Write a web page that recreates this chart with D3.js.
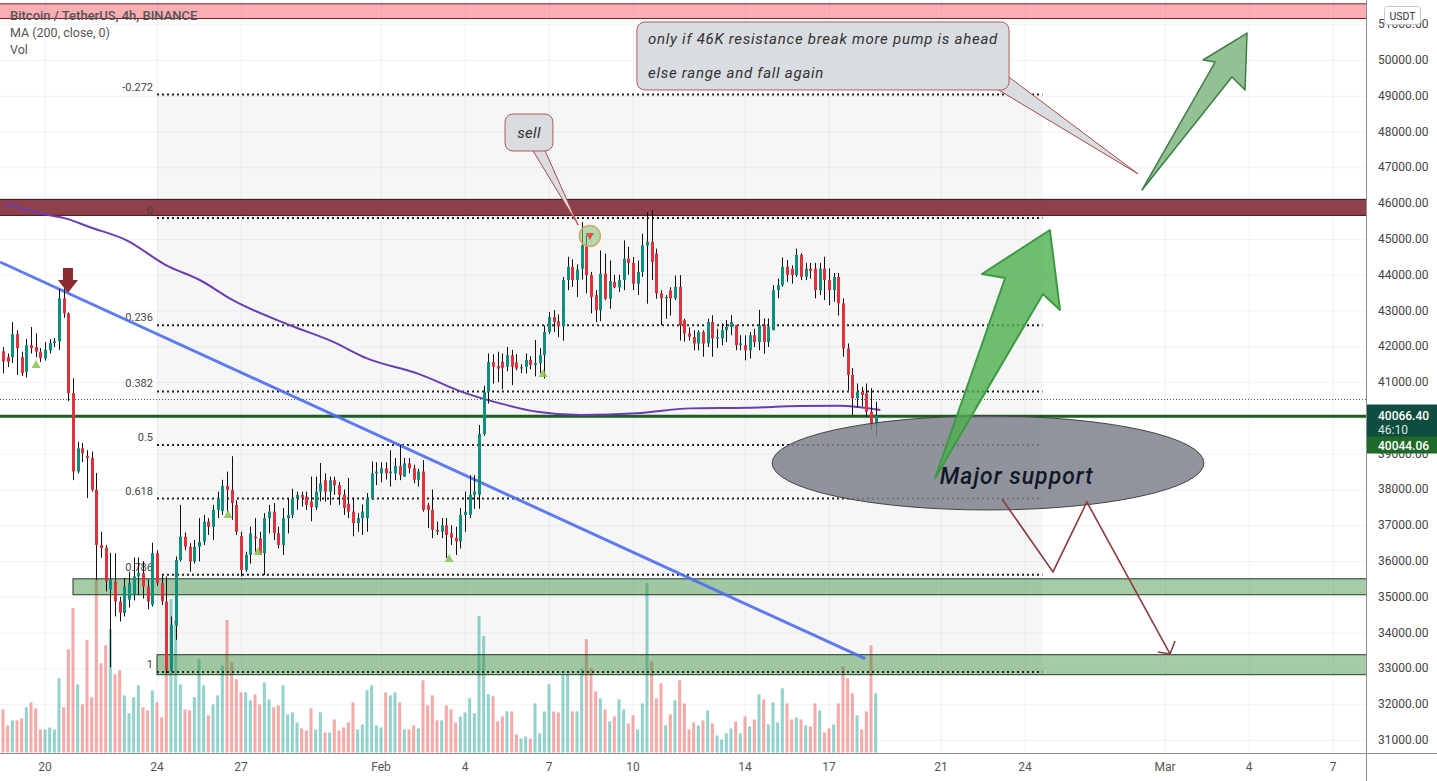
<!DOCTYPE html>
<html><head><meta charset="utf-8">
<script src="https://cdn.jsdelivr.net/npm/d3@7"></script>
<style>
body{margin:0;background:#fff;overflow:hidden}
svg{display:block}
text{font-family:Roboto,"Noto Sans",sans-serif}
</style>
</head><body>
<svg id="c" width="1437" height="781"></svg>
<script>
// ---------------- DATA ----------------
const title = "Bitcoin / TetherUS, 4h, BINANCE";
const legendLines = ["MA (200, close, 0)", "Vol"];
const candleStart = "2022-01-18T12:00:00Z"; // 4h candles
const opens = [41860,41700,41700,42340,41700,41290,42030,41980,41850,41660,41890,42090,42140,43340,42920,40690,38500,39150,38930,38880,
37990,36450,36370,35200,35430,34870,34550,34920,35060,35570,35660,35290,34780,36220,35380,34870,32970,34200,36030,36680,
36400,35990,36400,36540,37100,36960,37430,37400,38100,37990,37570,36700,35750,36170,36680,36630,36220,37200,37380,36780,
36450,37200,37290,37750,37850,37800,37660,37500,37940,38260,37940,38260,38120,37850,37600,37380,37060,37200,37200,37750,
38450,38450,38590,38450,38450,38660,38360,38730,38590,38270,38500,37560,37430,36870,36820,37000,36780,36650,36550,37290,
37290,37850,37850,39550,40730,41560,41450,41570,41430,41750,41550,41380,41430,41620,41480,41530,41750,42400,42820,42700,
42560,43850,44220,43850,44170,44820,43990,43430,43010,44030,43330,43800,43650,43850,44450,44330,43750,44080,44820,44920,
44590,43480,43340,43560,43340,43660,42730,42360,42260,42080,42400,42080,42680,42220,42220,42450,42540,42590,42030,42030,
41890,42310,42120,42590,42120,42450,43570,43710,44220,44170,43990,44550,43940,44170,44170,43570,44170,43850,43570,43940,
43200,41940,41200,40550,40730,40680,40170,39800];
const highs = [41980,41800,42680,42450,41850,42200,42540,42360,41950,42120,42200,42230,43600,43620,42950,41110,39330,39300,39100,39060,
38460,36820,36450,36230,36220,35000,35520,35700,36100,36100,36000,35480,36510,36300,35600,35570,34450,36130,37570,36800,
36500,36590,37200,37290,37200,37570,37940,38270,38500,38930,37700,36820,36260,36960,37200,36820,37340,37570,37620,36960,
37480,37750,38020,37940,37940,37940,38360,38360,38740,38450,38360,38360,38210,38000,38320,37770,37340,37580,37900,38780,
38760,38760,38760,39100,38880,39240,38880,38880,38690,38580,38820,37620,38000,37100,37200,37200,37000,36960,37480,37940,
38400,38400,39800,40900,41800,41780,41850,41800,41980,41900,41780,41500,41800,41720,42180,41950,42580,42960,43010,42890,
43940,44500,44430,44290,45470,45110,44080,43570,44680,44590,44400,44000,44000,44960,44780,44490,44400,45150,45750,45800,
44730,43570,43430,43650,43980,43990,42770,42530,42450,42450,42450,42770,42870,42490,42640,42730,42870,42590,42310,42310,
42400,42490,43020,42780,42780,43710,43890,44480,44410,44260,44730,44600,44330,44330,44330,44330,44500,44180,44050,44050,
43340,42080,41390,40960,40870,40960,40830,40450];
const lows = [41240,41420,41530,41200,41170,41130,41800,41700,41560,41600,41800,41980,41900,42800,40470,38260,38450,38770,37760,37940,
35470,36090,35150,33030,34450,34310,34450,34700,34900,35050,34950,34650,34730,35300,34770,32870,32920,33800,35990,36300,
35700,35930,35990,36450,36730,36590,37200,37290,37380,37150,36730,35570,35700,35930,36260,36170,35610,36770,36590,36350,
36170,36770,37200,37430,37520,37430,37110,37430,37670,37660,37570,37850,37570,37290,37200,36690,36820,36730,36820,37710,
38120,38200,38280,38080,38260,38260,38360,38450,38170,38080,37380,36920,36640,36730,36640,36090,36450,36170,36350,36820,
37200,37460,37460,39500,40400,40960,41000,40800,41300,40920,41330,41250,41240,41360,41160,41250,41100,42350,42400,42260,
42160,43570,43660,43380,43870,43480,42920,42680,42700,43290,43050,43620,43520,43570,44000,43570,43430,43940,43190,43850,
43330,42590,42770,42860,43290,42160,42130,42160,41890,41890,41710,41980,41710,41950,42030,42120,42310,41890,41890,41610,
41660,41980,41890,41790,41980,42450,43340,43660,43800,43750,43940,43850,43850,43890,43340,43430,43290,43150,43250,42860,
41710,40770,40080,40280,40320,40030,39660,39480];
const closes = [41580,41570,42340,41950,41250,42030,41950,41850,41670,41910,42090,42140,43340,42920,40690,38500,39150,39010,38880,37990,
36450,36360,35430,35480,34870,34560,35290,35390,35570,35670,35290,34870,36220,35380,34880,32970,34220,36030,36680,36400,
35990,36400,36540,37100,36960,37430,37750,38100,37990,37620,36820,35750,36170,36770,36630,36220,37200,37380,36780,36450,
37200,37290,37750,37850,37780,37570,37500,37940,38170,37940,38260,38120,37850,37480,37380,37060,37200,37380,37750,38450,
38500,38590,38450,38500,38660,38400,38730,38590,38270,38500,37430,37430,36870,36820,37000,36730,36650,36550,37290,37380,
37850,37940,39550,40730,41560,41430,41380,41400,41750,41430,41380,41420,41620,41480,41530,41750,42400,42820,42680,42560,
43850,44220,43850,44150,44820,43990,43380,43010,44030,43330,43820,43650,43850,44450,44330,43750,44080,44820,44920,44360,
43480,43340,43380,43340,43660,42590,42360,42270,42080,42400,42080,42680,42220,42260,42450,42540,42680,42030,42080,41890,
42310,42120,42590,42120,42540,43570,43710,44220,43990,43990,44550,43940,44170,44100,43570,44170,43850,43570,43940,43200,
41940,41200,40550,40730,40640,40170,39800,40066];
const volumes = [4300,2700,3200,3200,3400,4500,5000,4400,2300,2300,2500,2300,7400,4500,10300,14400,6800,4800,11200,5500,
17300,8900,10700,12300,7800,8200,5700,3900,5500,6700,4500,4200,6200,5000,3500,8700,15300,13200,6800,4300,
4200,5500,9300,6700,3700,4800,5700,8700,13200,9000,7300,6000,6000,5200,5800,4800,7000,5300,4500,4700,
6700,3800,4000,3000,2400,2200,4400,2300,4000,2000,2000,3300,2200,2500,3000,5000,2300,2800,6200,6700,
2700,2500,6000,5700,6000,5000,2300,2300,2700,2400,7200,4700,5700,3200,3200,4700,4300,3000,3600,4000,
5400,3900,13600,11600,5800,5600,3100,3600,4100,4100,1800,1400,1600,1400,4900,1900,4100,6800,4100,4000,
7700,7800,4100,4100,8400,11300,8400,6100,5400,4300,3100,3600,5300,4300,2900,3700,2300,4900,16900,9100,
5400,6900,2700,3800,5200,7200,4900,2300,3000,2700,3200,4200,2900,1700,1300,1900,2400,3100,1900,3600,
2600,3300,5800,5300,2800,5000,3000,6400,4900,3300,3500,3300,2700,2600,4900,4200,2000,2400,2800,4900,
8600,7400,5900,3700,2300,4100,10700,5900];

const maDates = ["2022-01-18T12:00Z","2022-01-20T04:00Z","2022-01-20T18:00Z","2022-01-21T14:00Z","2022-01-22T22:00Z","2022-01-24T08:00Z",
"2022-01-25T13:00Z","2022-01-26T17:00Z","2022-01-28T18:00Z","2022-01-30T07:00Z","2022-01-31T12:00Z","2022-02-02T07:00Z",
"2022-02-04T01:00Z","2022-02-05T06:00Z","2022-02-06T14:00Z","2022-02-08T03:00Z","2022-02-10T03:00Z","2022-02-12T01:00Z",
"2022-02-14T02:00Z","2022-02-15T23:00Z","2022-02-17T09:00Z","2022-02-17T23:00Z","2022-02-18T20:00Z"];
const maValues = [45994,45659,45567,45333,44962,44264,43846,43288,42590,42125,41662,41243,40685,40406,40171,40079,40127,40266,40283,40330,40339,40311,40219];

const priceTicks = [31000,32000,33000,34000,35000,36000,37000,38000,39000,40000,41000,42000,43000,44000,45000,46000,47000,48000,49000,50000,51000];
const timeTickDates = ["2022-01-20","2022-01-24","2022-01-27","2022-02-01","2022-02-04","2022-02-07","2022-02-10","2022-02-14","2022-02-17","2022-02-21","2022-02-24","2022-03-01","2022-03-04","2022-03-07"];
const timeTickLabels = ["20","24","27","Feb","4","7","10","14","17","21","24","Mar","4","7"];

const fibLevels = [-0.272,0,0.236,0.382,0.5,0.618,0.786,1];
const fibLabels = ["-0.272","0","0.236","0.382","0.5","0.618","0.786","1"];
const fibHigh = 45585, fibLow = 32900;
const fibStart = "2022-01-24T00:00Z", fibEnd = "2022-02-24T15:00Z";

const trendDates = ["2022-01-18T09:30Z","2022-02-18T07:00Z"];
const trendPrices = [44356, 33272];

// zones [startDate, topPrice, bottomPrice]
const zoneTop = ["2022-01-18T00:00Z", 51570, 51160];
const zoneResist = ["2022-01-18T00:00Z", 46106, 45659];
const zoneBox1 = ["2022-01-21T00:00Z", 35504, 35058];
const zoneBox2 = ["2022-01-24T00:00Z", 33383, 32825];
const supportLevel = 40044.06;
const dottedLevel = 40528;
const lastPrice = "40066.40", countdown = "46:10", lineLabel = "40044.06";

// annotations in [days after Jan 20, price]
const upMarkers = [[-0.32,41506],[6.54,37315],[7.61,36282],[14.43,36086],[17.79,41255]];
const downArrow = [0.82, 44189, 43490];
const bigArrow = [[31.79,38321],[34.29,43909],[33.46,44021],[35.89,45250],[36.25,43015],[35.64,43462]];
const topArrow = [[39.18,46368],[41.79,49944],[41.36,50000],[42.93,50754],[42.86,49162],[42.39,49525]];
const ellipse = [33.68, 38740, 7.71, 1313];
const zigzag = [[34.18,37734],[36.0,35695],[37.21,37650],[40.18,33404]];
const zigHead = [[39.75,33460],[40.18,33404],[40.36,33767]];
const note1 = {box:[21.14,51062,34.43,49162], tail:[[34.0,49190],[34.43,49520],[39.04,46815]],
  lines:["only if 46K resistance break more pump is ahead","else range and fall again"]};
const note2 = {box:[16.43,48491,18.14,47457], tail:[[17.4,47500],[17.85,47480],[19.04,45390]], lines:["sell"]};
const sellCircle = [19.46, 45083];

// ---------------- CHART ----------------
const W = 1437, H = 781, plotR = 1366, plotB = 753;
const svg = d3.select("#c");
const x = d3.scaleUtc().domain([new Date("2022-01-20T00:00Z"), new Date("2022-03-01T00:00Z")]).range([45,1165]);
const y = d3.scaleLinear().domain([31000,50000]).range([740,60]);
const vy = d3.scaleLinear().domain([0,17300]).range([752.5,579]);
const day0 = new Date("2022-01-20T00:00Z");
const xd = d => x(d3.utcMinute.offset(day0, Math.round(d*1440)));
const P = p => [xd(p[0]), y(p[1])];

svg.append("defs").append("clipPath").attr("id","plot").append("rect").attr("x",0).attr("y",0).attr("width",plotR).attr("height",plotB);
const g = svg.append("g").attr("clip-path","url(#plot)");

// grid
g.selectAll(".hg").data(priceTicks).join("line").attr("x1",0).attr("x2",plotR)
 .attr("y1",d=>y(d)+0.5).attr("y2",d=>y(d)+0.5).attr("stroke","#f0f3fa");
g.selectAll(".vg").data(timeTickDates).join("line").attr("y1",0).attr("y2",plotB)
 .attr("x1",d=>Math.round(x(new Date(d+"T00:00Z")))+0.5).attr("x2",d=>Math.round(x(new Date(d+"T00:00Z")))+0.5).attr("stroke","#f0f3fa");

// fib background
const fibPrice = l => fibHigh - l*(fibHigh-fibLow);
g.append("rect").attr("x",x(new Date(fibStart))).attr("width",x(new Date(fibEnd))-x(new Date(fibStart)))
 .attr("y",y(fibPrice(-0.272))).attr("height",y(fibPrice(1))-y(fibPrice(-0.272))).attr("fill","#000").attr("fill-opacity",0.035);

// candles data
const start = new Date(candleStart);
const candles = closes.map((c,i)=>({t:d3.utcHour.offset(start,4*i),o:opens[i],h:highs[i],l:lows[i],c:c,v:volumes[i]}));

// volume
g.selectAll(".vol").data(candles).join("rect")
 .attr("x",d=>x(d.t)-1.5).attr("width",3)
 .attr("y",d=>vy(d.v)).attr("height",d=>vy(0)-vy(d.v))
 .attr("fill",d=>d.c>=d.o?"#26a69a":"#ef5350").attr("fill-opacity",0.5);

// zones
function zone(z, fill, stroke, op){
  g.append("rect").attr("x",x(new Date(z[0]))).attr("width",plotR+10-x(new Date(z[0])))
   .attr("y",y(z[1])).attr("height",y(z[2])-y(z[1]))
   .attr("fill",fill).attr("fill-opacity",op).attr("stroke",stroke).attr("stroke-width",1);
}
zone(zoneTop,"#f23645","#7a1f26",0.4);
zone(zoneResist,"#7d1f2a","#3a0d12",0.85);
zone(zoneBox1,"#388e3c","#1f3b21",0.45);
zone(zoneBox2,"#388e3c","#1f3b21",0.45);

// dotted level
g.append("line").attr("x1",0).attr("x2",plotR).attr("y1",Math.round(y(dottedLevel))+0.5).attr("y2",Math.round(y(dottedLevel))+0.5)
 .attr("stroke","#555").attr("stroke-dasharray","1,2");
// support line
g.append("line").attr("x1",0).attr("x2",plotR).attr("y1",y(supportLevel)).attr("y2",y(supportLevel))
 .attr("stroke","#1b5e20").attr("stroke-width",3);

// fib lines
g.selectAll(".fib").data(fibLevels).join("line")
 .attr("x1",x(new Date(fibStart))).attr("x2",x(new Date(fibEnd)))
 .attr("y1",d=>y(fibPrice(d))).attr("y2",d=>y(fibPrice(d)))
 .attr("stroke","#222").attr("stroke-width",2).attr("stroke-dasharray","2,3");
g.selectAll(".fibl").data(fibLevels).join("text")
 .attr("x",x(new Date(fibStart))-4).attr("y",d=>y(fibPrice(d))-4)
 .attr("text-anchor","end").attr("font-size",11).attr("fill","#444").text((d,i)=>fibLabels[i]);

// MA line
const maPts = maDates.map((d,i)=>[x(new Date(d)), y(maValues[i])]);
g.append("path").attr("d",d3.line().curve(d3.curveMonotoneX)(maPts)).attr("fill","none").attr("stroke","#6a3db5").attr("stroke-width",2);
// trend line
g.append("line").attr("x1",x(new Date(trendDates[0]))).attr("y1",y(trendPrices[0]))
 .attr("x2",x(new Date(trendDates[1]))).attr("y2",y(trendPrices[1]))
 .attr("stroke","#4d6ef0").attr("stroke-width",3).attr("stroke-opacity",0.9);

// candles
const cg = g.append("g");
cg.selectAll(".wick").data(candles).join("line")
 .attr("x1",d=>Math.round(x(d.t))+0.5).attr("x2",d=>Math.round(x(d.t))+0.5)
 .attr("y1",d=>y(d.h)).attr("y2",d=>y(d.l)).attr("stroke","#111").attr("stroke-width",1);
cg.selectAll(".body").data(candles).join("rect")
 .attr("x",d=>Math.round(x(d.t))-1).attr("width",3)
 .attr("y",d=>y(Math.max(d.o,d.c))).attr("height",d=>Math.max(1,Math.abs(y(d.o)-y(d.c))))
 .attr("fill",d=>d.c>=d.o?"#0e8f7e":"#e3303b");

// markers
g.selectAll(".up").data(upMarkers).join("path")
 .attr("d",d=>{const [px,py]=P(d);return `M${px},${py-4}L${px+4.5},${py+4}L${px-4.5},${py+4}Z`;})
 .attr("fill","#8bc34a").attr("fill-opacity",0.85);
{
  const px = xd(downArrow[0]), t = y(downArrow[1]), b = y(downArrow[2]);
  g.append("path").attr("d",`M${px-5},${t}L${px+5},${t}L${px+5},${t+12}L${px+10},${t+12}L${px},${b}L${px-10},${t+12}L${px-5},${t+12}Z`)
   .attr("fill","#8b2a2f");
}

// callouts
function note(n){
  const [d1,p1,d2,p2] = n.box;
  const tp = n.tail.map(P);
  g.append("path").attr("d",`M${tp[0]}L${tp[2]}L${tp[1]}Z`).attr("fill","#d9dce1").attr("stroke","#b04848").attr("stroke-width",1);
  g.append("rect").attr("x",xd(d1)).attr("y",y(p1)).attr("width",xd(d2)-xd(d1)).attr("height",y(p2)-y(p1))
   .attr("rx",8).attr("fill","#d9dce1").attr("stroke","#b05a5a").attr("stroke-width",1);
  const lh = (y(p2)-y(p1))/n.lines.length;
  n.lines.forEach((t,i)=>{
    g.append("text").attr("x", n.lines.length>1? xd(d1)+11 : (xd(d1)+xd(d2))/2)
     .attr("text-anchor", n.lines.length>1?"start":"middle")
     .attr("y", y(p1)+lh*i+lh/2+5).attr("font-size",15).attr("font-style","italic")
     .attr("letter-spacing", n.lines.length>1?0.75:0.3)
     .attr("font-family","'Open Sans',sans-serif").attr("fill","#333").text(t);
  });
}
note(note1);
note(note2);

// sell circle
{
  const [cx,cy] = P(sellCircle);
  g.append("circle").attr("cx",cx).attr("cy",cy).attr("r",10.5).attr("fill","#81c784").attr("fill-opacity",0.6)
   .attr("stroke","#d9a760").attr("stroke-width",1.5);
  g.append("path").attr("d",`M${cx-4},${cy-3}L${cx+4},${cy-3}L${cx},${cy+4}Z`).attr("fill","#e5533d");
}

// ellipse
{
  const cx = xd(ellipse[0]), cy = y(ellipse[1]);
  const rx = xd(ellipse[0]+ellipse[2]) - cx, ry = y(ellipse[1]-ellipse[3]) - cy;
  g.append("ellipse").attr("cx",cx).attr("cy",cy).attr("rx",rx).attr("ry",ry)
   .attr("fill","#7e818c").attr("fill-opacity",0.85).attr("stroke","#444").attr("stroke-width",1);
}
// big green arrow
g.append("path").attr("d",d3.line()(bigArrow.map(P))+"Z")
 .attr("fill","#4caf50").attr("fill-opacity",0.8).attr("stroke","#3b9a42").attr("stroke-width",2).attr("stroke-linejoin","round");
g.append("path").attr("d",d3.line()(topArrow.map(P))+"Z")
 .attr("fill","#388e3c").attr("fill-opacity",0.55).attr("stroke","#3f7f45").attr("stroke-width",1.5).attr("stroke-linejoin","round");
// major support text
g.append("text").attr("x",xd(31.96)).attr("y",y(38153)).attr("font-size",23).attr("font-style","italic").attr("font-weight",500)
 .attr("letter-spacing",1).attr("font-family","'Open Sans',sans-serif").attr("fill","#111827").text("Major support");
// zigzag
g.append("path").attr("d",d3.line()(zigzag.map(P))).attr("fill","none").attr("stroke","#8b3a3e").attr("stroke-width",1.6);
g.append("path").attr("d",d3.line()(zigHead.map(P))).attr("fill","none").attr("stroke","#8b3a3e").attr("stroke-width",1.6);

// legend text
svg.append("text").attr("x",10).attr("y",20).attr("font-size",13).attr("font-weight",500).attr("fill","#555").text(title);
legendLines.forEach((t,i)=>svg.append("text").attr("x",10).attr("y",37+i*17).attr("font-size",12.5).attr("fill","#555").text(t));

// axes
svg.append("line").attr("x1",plotR+0.5).attr("x2",plotR+0.5).attr("y1",0).attr("y2",H).attr("stroke","#8a8d96");
svg.append("line").attr("x1",0).attr("x2",W).attr("y1",plotB+0.5).attr("y2",plotB+0.5).attr("stroke","#8a8d96");
svg.selectAll(".pt").data(priceTicks).join("text").attr("x",1378).attr("y",d=>y(d)+4)
 .attr("font-size",12).attr("fill","#444").text(d=>d.toFixed(2));
svg.selectAll(".tt").data(timeTickDates).join("text").attr("x",d=>x(new Date(d+"T00:00Z"))).attr("y",771)
 .attr("text-anchor","middle").attr("font-size",12).attr("fill","#555").text((d,i)=>timeTickLabels[i]);
// USDT box
svg.append("rect").attr("x",1384.5).attr("y",6.5).attr("width",36).attr("height",18).attr("rx",3).attr("fill","#fff").attr("stroke","#c3c6ce");
svg.append("text").attr("x",1402.5).attr("y",19.5).attr("text-anchor","middle").attr("font-size",10.5).attr("fill","#333").text("USDT");
// price labels
{
  const ly = y(+lastPrice);
  svg.append("rect").attr("x",plotR+1).attr("y",ly-11).attr("width",W-plotR-1).attr("height",33).attr("fill","#0f4d40");
  svg.append("text").attr("x",1378).attr("y",ly+4).attr("font-size",12).attr("font-weight",500).attr("fill","#fff").text(lastPrice);
  svg.append("text").attr("x",1378).attr("y",ly+18).attr("font-size",12).attr("fill","#d6e8e2").text(countdown);
  svg.append("rect").attr("x",plotR+1).attr("y",ly+21).attr("width",W-plotR-1).attr("height",17).attr("fill","#1f6a2a");
  svg.append("text").attr("x",1378).attr("y",ly+34).attr("font-size",12).attr("font-weight",500).attr("fill","#fff").text(lineLabel);
}
</script>
</body></html>
